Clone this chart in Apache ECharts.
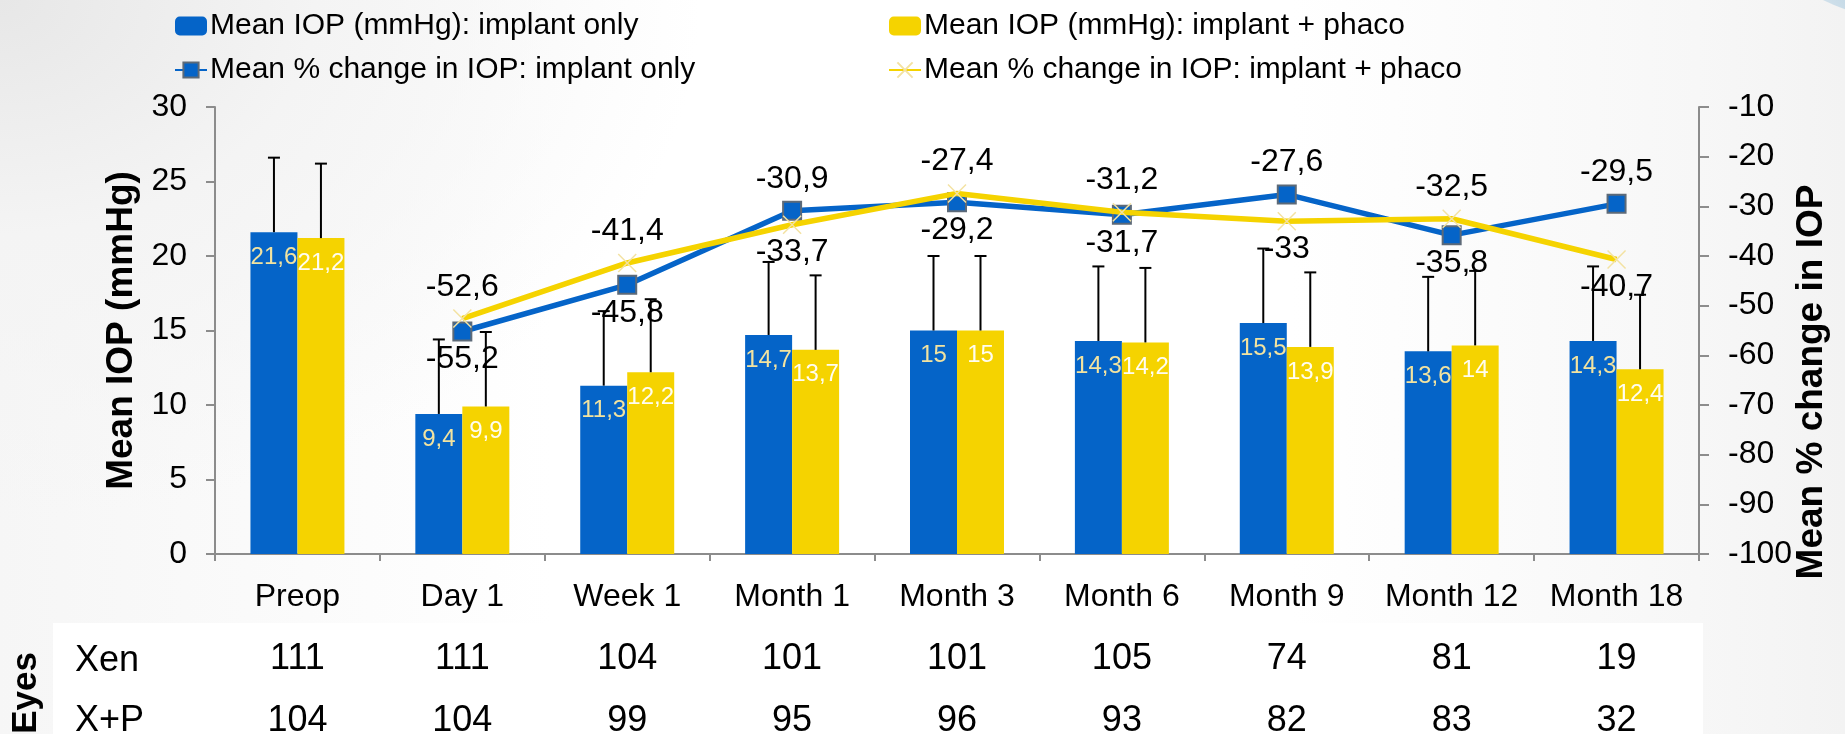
<!DOCTYPE html>
<html>
<head>
<meta charset="utf-8">
<title>Mean IOP and % change</title>
<script src="https://cdn.jsdelivr.net/npm/echarts@6/dist/echarts.min.js"></script>
<style>
  html, body { margin: 0; padding: 0; }
  body {
    width: 1845px; height: 734px; overflow: hidden;
    background:
      radial-gradient(ellipse 700px 520px at 0% 0%, #e7e7e7 0%, #f4f4f4 45%, rgba(255,255,255,0) 100%),
      linear-gradient(to right, #f6f6f6 0%, #ffffff 30%, #ffffff 70%, #f7f7f7 92%, #f3f3f3 100%);
  }
  #chart { width: 1845px; height: 734px; }
</style>
</head>
<body>
<div id="chart"></div>
<script>
const categories = ['Preop', 'Day 1', 'Week 1', 'Month 1', 'Month 3', 'Month 6', 'Month 9', 'Month 12', 'Month 18'];

// mean IOP (mmHg) and upper SD
const iopImplant = [21.6, 9.4, 11.3, 14.7, 15, 14.3, 15.5, 13.6, 14.3];
const iopPhaco = [21.2, 9.9, 12.2, 13.7, 15, 14.2, 13.9, 14, 12.4];
const sdImplant = [5.0, 5.0, 5.0, 4.9, 5.0, 5.0, 5.0, 5.0, 5.0];
const sdPhaco = [5.0, 5.0, 4.9, 5.0, 5.0, 5.0, 5.0, 5.0, 5.0];

// mean % change in IOP (no value at Preop)
const pctImplant = [null, -55.2, -45.8, -30.9, -29.2, -31.7, -27.6, -35.8, -29.5];
const pctPhaco = [null, -52.6, -41.4, -33.7, -27.4, -31.2, -33, -32.5, -40.7];

// number of eyes per visit
const eyesXen = [111, 111, 104, 101, 101, 105, 74, 81, 19];
const eyesXP = [104, 104, 99, 95, 96, 93, 82, 83, 32];

const NAMES = {
  barA: 'Mean IOP (mmHg): implant only',
  barB: 'Mean IOP (mmHg): implant + phaco',
  lineA: 'Mean % change in IOP: implant only',
  lineB: 'Mean % change in IOP: implant + phaco'
};

const BLUE = '#0564C8';
const YELLOW = '#F5D300';
const FONT = '"Liberation Sans", Arial, sans-serif';
const CAT_GAP = 0.43;

const fmt = v => String(v).replace('.', ',');

function errorBar(side) {
  return function (params, api) {
    const i = api.value(0);
    const mean = api.value(1);
    const top = mean + api.value(2);
    const band = api.size([1, 0])[0];
    const barW = band * (1 - CAT_GAP) / 2;
    const base = api.coord([i, mean]);
    const x = base[0] + side * barW / 2;
    const yTop = api.coord([i, top])[1];
    const style = { stroke: '#000', lineWidth: 2 };
    return {
      type: 'group',
      children: [
        { type: 'line', shape: { x1: x, y1: base[1], x2: x, y2: yTop }, style },
        { type: 'line', shape: { x1: x - 6, y1: yTop, x2: x + 6, y2: yTop }, style }
      ]
    };
  };
}

// label above for the higher point of a pair, below for the lower one
function lineData(own, other) {
  return own.map((v, i) => {
    if (v == null) return null;
    const up = other[i] == null || v >= other[i];
    return {
      value: v,
      label: { position: up ? 'top' : 'bottom', distance: up ? 6 : 2 }
    };
  });
}

const barLabel = color => ({
  show: true,
  position: 'insideTop',
  distance: 13,
  color,
  fontSize: 24,
  fontFamily: FONT,
  formatter: p => fmt(p.value)
});

const lineLabel = {
  show: true,
  color: '#000',
  fontSize: 32,
  fontFamily: FONT,
  formatter: p => fmt(p.value)
};

const legendBase = {
  orient: 'vertical',
  top: 11,
  padding: 0,
  itemWidth: 32,
  itemHeight: 19,
  itemGap: 14,
  textStyle: { fontSize: 30, color: '#000', fontFamily: FONT, lineHeight: 30, padding: [0, 0, 0, -2] }
};

const countAxis = (counts, offset) => ({
  type: 'category',
  data: categories,
  position: 'bottom',
  offset,
  axisLine: { show: false },
  axisTick: { show: false },
  axisLabel: {
    margin: 8,
    fontSize: 36,
    color: '#000',
    fontFamily: FONT,
    interval: 0,
    formatter: (v, idx) => String(counts[idx])
  }
});

const axisLine = { show: true, lineStyle: { color: '#8c8c8c', width: 2 } };

const chart = echarts.init(document.getElementById('chart'));

chart.setOption({
  backgroundColor: 'transparent',
  animation: false,
  textStyle: { fontFamily: FONT },
  grid: { left: 215, right: 146, top: 107, bottom: 180, containLabel: false, outerBoundsMode: 'none' },
  legend: [
    Object.assign({ left: 174, data: [NAMES.barA, NAMES.lineA] }, legendBase),
    Object.assign({ left: 888, data: [NAMES.barB, NAMES.lineB] }, legendBase)
  ],
  graphic: [
    {
      type: 'ellipse',
      shape: { cx: 2100, cy: -44, rx: 320, ry: 88 },
      style: {
        fill: new echarts.graphic.LinearGradient(0, 1, 0.4, 0, [
          { offset: 0, color: 'rgba(240,245,248,0.9)' },
          { offset: 0.3, color: 'rgba(185,210,226,0.9)' },
          { offset: 1, color: 'rgba(110,160,200,1)' }
        ])
      },
      z: -20
    },
    {
      type: 'rect',
      shape: { x: 53, y: 623, width: 1650, height: 111 },
      style: { fill: '#ffffff' },
      z: -10
    },
    {
      type: 'text', x: 26, y: 693, rotation: Math.PI / 2,
      style: {
        text: 'Eyes', font: 'bold 35px ' + FONT, fill: '#000',
        align: 'center', verticalAlign: 'middle',
        textAlign: 'center', textVerticalAlign: 'middle'
      }
    },
    {
      type: 'text', x: 75, y: 661,
      style: {
        text: 'Xen', font: '36px ' + FONT, fill: '#000',
        align: 'left', verticalAlign: 'middle',
        textAlign: 'left', textVerticalAlign: 'middle'
      }
    },
    {
      type: 'text', x: 75, y: 721,
      style: {
        text: 'X+P', font: '36px ' + FONT, fill: '#000',
        align: 'left', verticalAlign: 'middle',
        textAlign: 'left', textVerticalAlign: 'middle'
      }
    },
    {
      type: 'text', x: 1812, y: 382, rotation: Math.PI / 2,
      style: {
        text: 'Mean % change in IOP', font: 'bold 37px ' + FONT, fill: '#000',
        align: 'center', verticalAlign: 'middle',
        textAlign: 'center', textVerticalAlign: 'middle'
      }
    }
  ],
  xAxis: [
    {
      type: 'category',
      data: categories,
      axisLine,
      axisTick: { show: true, length: 7, lineStyle: { color: '#8c8c8c', width: 2 } },
      axisLabel: { margin: 27, fontSize: 32, color: '#000', fontFamily: FONT, interval: 0 }
    },
    countAxis(eyesXen, 79),
    countAxis(eyesXP, 141)
  ],
  yAxis: [
    {
      type: 'value',
      min: 0,
      max: 30,
      interval: 5,
      name: 'Mean IOP (mmHg)',
      nameLocation: 'middle',
      nameGap: 68,
      nameTextStyle: { fontSize: 37, fontWeight: 'bold', color: '#000', fontFamily: FONT },
      axisLine,
      axisTick: { show: true, length: 9, lineStyle: { color: '#8c8c8c', width: 2 } },
      axisLabel: { margin: 28, fontSize: 32, color: '#000', fontFamily: FONT },
      splitLine: { show: false }
    },
    {
      type: 'value',
      min: -100,
      max: -10,
      interval: 10,
      position: 'right',
      axisLine,
      axisTick: { show: true, length: 10, lineStyle: { color: '#8c8c8c', width: 2 } },
      axisLabel: { margin: 29, fontSize: 32, color: '#000', fontFamily: FONT },
      splitLine: { show: false }
    }
  ],
  series: [
    {
      name: NAMES.barA,
      type: 'bar',
      data: iopImplant,
      barGap: 0,
      barCategoryGap: (CAT_GAP * 100) + '%',
      itemStyle: { color: BLUE },
      label: barLabel('#F2E3A0')
    },
    {
      name: NAMES.barB,
      type: 'bar',
      data: iopPhaco,
      itemStyle: { color: YELLOW },
      label: barLabel('#FFFDF0')
    },
    {
      type: 'custom',
      renderItem: errorBar(-1),
      data: iopImplant.map((v, i) => [i, v, sdImplant[i]]),
      encode: { x: 0, y: 1 },
      z: 3
    },
    {
      type: 'custom',
      renderItem: errorBar(1),
      data: iopPhaco.map((v, i) => [i, v, sdPhaco[i]]),
      encode: { x: 0, y: 1 },
      z: 3
    },
    {
      name: NAMES.lineA,
      type: 'line',
      yAxisIndex: 1,
      data: lineData(pctImplant, pctPhaco),
      symbol: 'rect',
      symbolSize: 18,
      lineStyle: { color: BLUE, width: 5.5 },
      itemStyle: { color: BLUE, borderColor: '#5d6a78', borderWidth: 2 },
      label: lineLabel,
      z: 4
    },
    {
      name: NAMES.lineB,
      type: 'line',
      yAxisIndex: 1,
      data: lineData(pctPhaco, pctImplant),
      symbol: 'path://M0,0L10,10M10,0L0,10',
      symbolSize: 18,
      lineStyle: { color: YELLOW, width: 5.5 },
      itemStyle: { color: YELLOW, borderColor: '#F3E2A2', borderWidth: 1.5 },
      label: lineLabel,
      z: 5
    }
  ]
});
</script>
</body>
</html>
